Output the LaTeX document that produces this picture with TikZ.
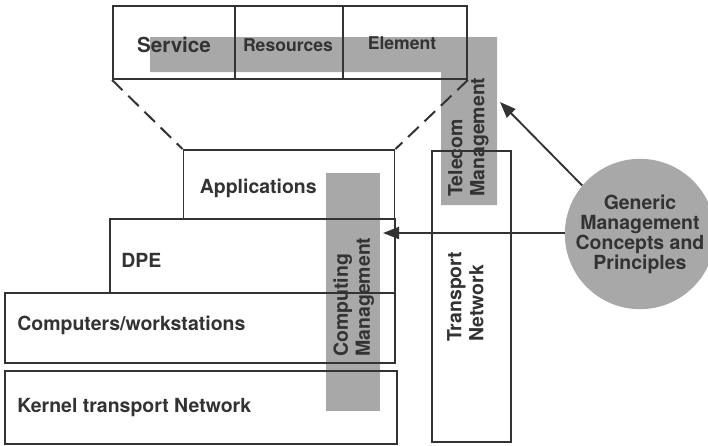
\documentclass[tikz,border=0pt]{standalone}
\usepackage{fontspec}
\setmainfont{TeX Gyre Heros}
\usetikzlibrary{positioning,arrows.meta}
\tikzset{
  layer/.style={draw=black!80, line width=1.4pt, rectangle, inner sep=0pt},
  lbl/.style={font=\bfseries\fontsize{14.6}{16.5}\selectfont, text=black!80, inner sep=0pt},
  band/.style={fill=black!34, draw=none},
  link/.style={draw=black!80, line width=1.4pt, -{Triangle[length=12pt,width=9pt]}}
}
\begin{document}
\begin{tikzpicture}[x=0.75pt,y=-0.75pt]
\useasboundingbox (0,0) rectangle (708,446);
%% management bands behind the layers
\fill[band] (150,37) -- (497,37) -- (497,205) -- (441,205) -- (441,72) -- (150,72) -- cycle;
\fill[band] (326,173) rectangle (380,411);
%% telecom management levels
\node[layer, minimum width=91.5pt, minimum height=54.75pt] (service) at (174,42.5) {};
\node[layer, minimum width=81pt, minimum height=54.75pt] (resources) at (289,42.5) {};
\node[layer, minimum width=93pt, minimum height=54.75pt] (element) at (405,42.5) {};
\node[lbl, font=\bfseries\fontsize{15.5}{16}\selectfont] (servicetxt) at (174,45) {Service};
\node[lbl, font=\bfseries\fontsize{13.2}{16}\selectfont] (resourcestxt) at (288,45) {Resources};
\node[lbl, font=\bfseries\fontsize{13.2}{16}\selectfont] (elementtxt) at (402,43) {Element};
%% computing layers
\node[layer, minimum width=158.25pt, minimum height=51.75pt] (app) at (289,184.5) {};
\node[layer, minimum width=213.75pt, minimum height=55.5pt] (dpe) at (252.5,256) {};
\node[layer, minimum width=292.5pt, minimum height=52.5pt] (comp) at (200,328) {};
\node[layer, minimum width=294pt, minimum height=54.75pt] (kernel) at (201,407.5) {};
\node[lbl, anchor=west, right=12.75pt of app.west, yshift=-3pt] (apptxt) {Applications};
\node[lbl, anchor=west, right=9pt of dpe.west, yshift=-3pt] (dpetxt) {DPE};
\node[lbl, anchor=west, right=9.75pt of comp.west, yshift=2pt] (comptxt) {Computers/workstations};
\node[lbl, anchor=west, right=9.75pt of kernel.west] (kerneltxt) {Kernel transport Network};
%% zoom lines
\draw[black!80, line width=1.5pt, dash pattern=on 11pt off 6pt] (service.south west) -- (app.north west);
\draw[black!80, line width=1.5pt, dash pattern=on 11pt off 6pt] (element.south east) -- (app.north east);
%% transport network
\node[layer, minimum width=59.25pt, minimum height=218.25pt] (transport) at (471.5,296.5) {};
\node[lbl, rotate=90, align=left, anchor=north west] (transporttxt) at (447,342) {Transport\\Network};
\node[lbl, rotate=90, align=left, anchor=north west] (telecomtxt) at (448,197) {Telecom\\Management};
\node[lbl, rotate=90, align=left, anchor=north west] (computingtxt) at (333,357) {Computing\\Management};
%% generic concepts
\node[circle, fill=black!34, minimum size=100.5pt, inner sep=0pt, lbl, align=center, font=\bfseries\fontsize{14.6}{15}\selectfont] (generic) at (640,234) {Generic\\Management\\Concepts and\\Principles};
\coordinate (telecomin) at (500,102);
\coordinate (computingin) at (383,233);
\draw[link] (generic.140) -- (telecomin);
\draw[link] (generic.west |- computingin) -- (computingin);
\end{tikzpicture}
\end{document}
